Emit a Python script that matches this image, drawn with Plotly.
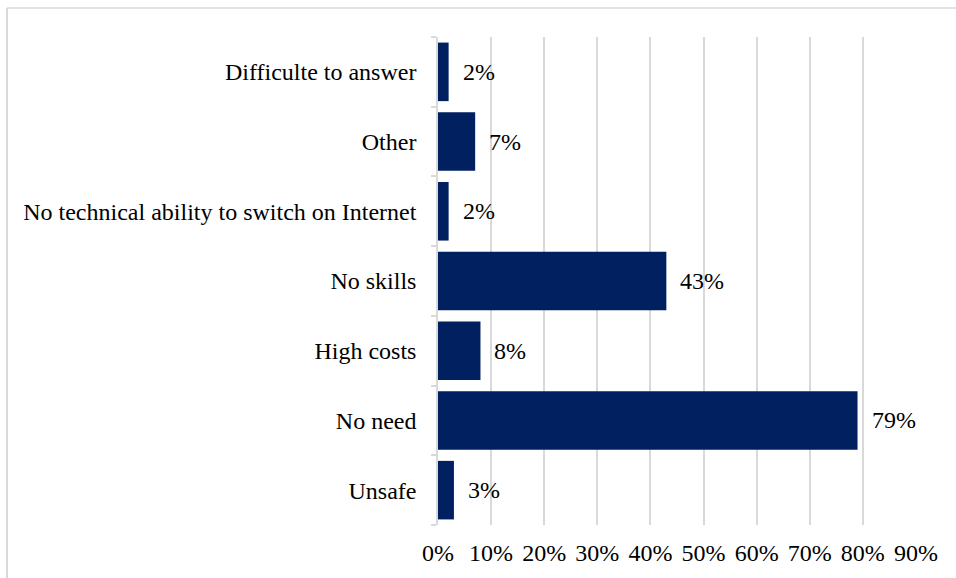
import plotly.graph_objects as go

# Reasons for not using the Internet (share of respondents), listed top to bottom
categories = [
    "Difficulte to answer",
    "Other",
    "No technical ability to switch on Internet",
    "No skills",
    "High costs",
    "No need",
    "Unsafe",
]
shares = [0.02, 0.07, 0.02, 0.43, 0.08, 0.79, 0.03]
tick_values = [0.0, 0.1, 0.2, 0.3, 0.4, 0.5, 0.6, 0.7, 0.8, 0.9]

BAR = "#002060"
GRID = "#d9d9d9"
FONT = "Times New Roman, Liberation Serif, DejaVu Serif, serif"
FS = 24
W, H = 956, 578
ML, MR, MT, MB = 438, 40, 37, 53

fig = go.Figure(
    go.Bar(
        x=shares,
        y=categories,
        orientation="h",
        marker=dict(color=BAR, line=dict(width=0)),
        hoverinfo="skip",
    )
)

# value labels placed just past the end of each bar
for cat, val in zip(categories, shares):
    fig.add_annotation(
        x=val, y=cat, text=f"{val:.0%}", showarrow=False,
        xanchor="left", yanchor="middle", xshift=12,
        font=dict(family=FONT, size=FS, color="#000000"),
    )

# outer chart frame (top and left edges)
pw, ph = W - ML - MR, H - MT - MB
def px_x(px):
    return (px - ML) / pw
def px_y(py):
    return (H - MB - py) / ph

fig.add_shape(type="line", xref="paper", yref="paper",
              x0=px_x(7), x1=px_x(7), y0=px_y(620), y1=px_y(8),
              line=dict(color=GRID, width=2))
fig.add_shape(type="line", xref="paper", yref="paper",
              x0=px_x(7), x1=px_x(1000), y0=px_y(8), y1=px_y(8),
              line=dict(color=GRID, width=1.5))

fig.update_layout(
    width=W, height=H,
    margin=dict(l=ML, r=MR, t=MT, b=MB, pad=0),
    paper_bgcolor="white", plot_bgcolor="white",
    bargap=0.16,
    showlegend=False,
    font=dict(family=FONT, size=FS, color="#000000"),
    xaxis=dict(
        range=[0, 0.9001],
        tickvals=tick_values,
        tickformat=".0%",
        showgrid=True, gridcolor=GRID, gridwidth=1.5,
        zeroline=False, showline=False, ticks="",
        ticklabelstandoff=11,
        tickfont=dict(family=FONT, size=FS, color="#000000"),
        fixedrange=True,
    ),
    yaxis=dict(
        categoryorder="array",
        categoryarray=categories[::-1],
        showline=True, linecolor=GRID, linewidth=1.5,
        ticks="outside", tickson="boundaries", ticklen=5,
        tickcolor=GRID, tickwidth=1.5,
        showgrid=False, zeroline=False,
        ticklabelstandoff=15,
        tickfont=dict(family=FONT, size=FS, color="#000000"),
        fixedrange=True,
    ),
)

fig.write_html("out.html")
